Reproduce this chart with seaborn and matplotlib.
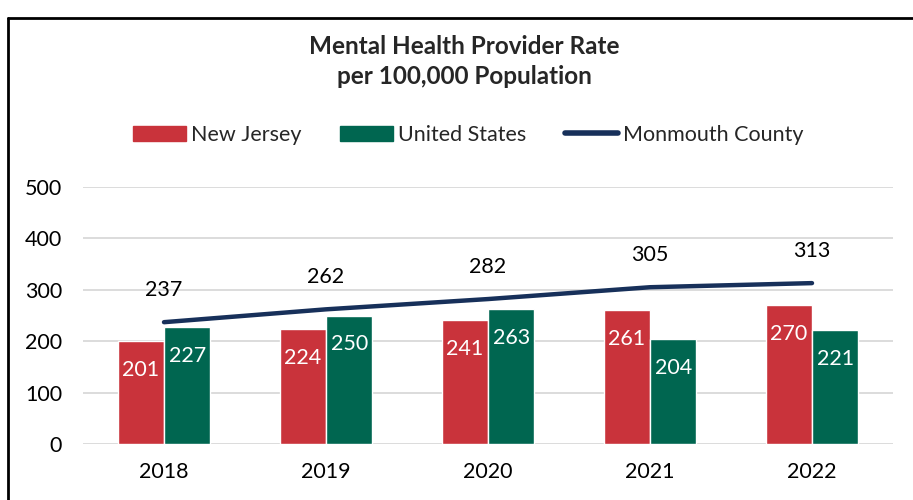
import pandas as pd
import seaborn as sns
import matplotlib.pyplot as plt
from matplotlib.patches import Patch
from matplotlib.lines import Line2D

years = ['2018', '2019', '2020', '2021', '2022']
new_jersey = [201, 224, 241, 261, 270]
united_states = [227, 250, 263, 204, 221]
monmouth = [237, 262, 282, 305, 313]

red = '#C9333B'
green = '#006650'
navy = '#17305A'

sns.set_style('white')
plt.rcParams['font.family'] = ['Lato', 'DejaVu Sans']
fs = 15.5

bars = pd.DataFrame({
    'year': years * 2,
    'rate': new_jersey + united_states,
    'area': ['New Jersey'] * 5 + ['United States'] * 5,
})

fig = plt.figure(figsize=(9.13, 5), dpi=100)
ax = fig.add_axes([83 / 913, 1 - 444 / 500, 810 / 913, 257 / 500])

sns.barplot(data=bars, x='year', y='rate', hue='area', palette=[red, green],
            width=0.574, saturation=1, ax=ax, legend=False)
sns.pointplot(x=years, y=monmouth, color=navy, markers='', linewidth=3.2,
              errorbar=None, ax=ax)

for c in ax.containers:
    ax.bar_label(c, padding=-28, color='white', fontsize=fs)

for i, v in enumerate(monmouth):
    ax.annotate(str(v), (i, v), xytext=(0, 23), textcoords='offset points',
                ha='center', va='center', fontsize=fs, color='black')

ax.set_ylim(0, 500)
ax.set_xlim(-0.5, 4.5)
ax.set_yticks(range(0, 501, 100))
ax.yaxis.grid(True, color='#D9D9D9', linewidth=1.3)
ax.set_axisbelow(True)
sns.despine(ax=ax, left=True, bottom=True)
ax.tick_params(axis='both', length=0, labelsize=fs, colors='black')
ax.tick_params(axis='y', pad=15)
ax.tick_params(axis='x', pad=13)
ax.set_xlabel('')
ax.set_ylabel('')

fig.text(0.509, 1 - 46 / 500, 'Mental Health Provider Rate', ha='center', va='center',
         fontsize=17.5, fontweight='bold')
fig.text(0.509, 1 - 77 / 500, 'per 100,000 Population', ha='center', va='center',
         fontsize=17.5, fontweight='bold')

handles = [Patch(color=red), Patch(color=green),
           Line2D([], [], color=navy, linewidth=4, solid_capstyle='round')]
fig.legend(handles, ['New Jersey', 'United States', 'Monmouth County'],
           loc='center', bbox_to_anchor=(0.513, 1 - 135 / 500), ncol=3, frameon=False,
           fontsize=fs, handlelength=2.45, handleheight=0.7, handletextpad=0.25,
           columnspacing=1.8)

# frame of the screenshot
fig.add_artist(Line2D([8 / 913, 8 / 913], [0, 1 - 18 / 500], color='black', linewidth=2))
fig.add_artist(Line2D([8 / 913, 1], [1 - 18 / 500, 1 - 18 / 500], color='black', linewidth=2))

fig.savefig('out.png', dpi=100)
